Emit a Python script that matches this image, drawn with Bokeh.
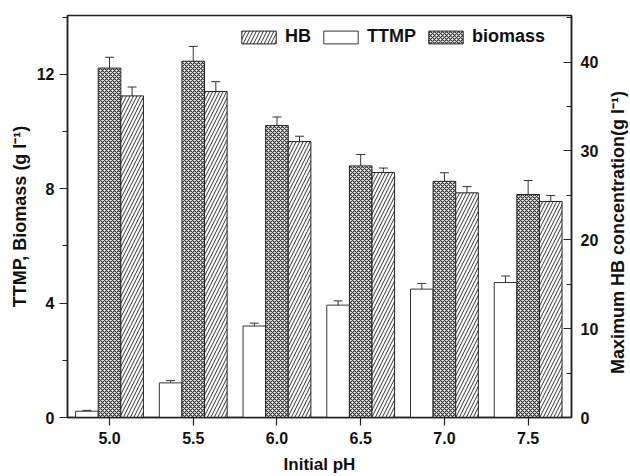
import math
from bokeh.plotting import figure
from bokeh.models import (ColumnDataSource, Range1d, LinearAxis, FixedTicker, NumeralTickFormatter,
                          Whisker, TeeHead, Legend, LegendItem, Label)
from bokeh.embed import file_html
from bokeh.resources import INLINE

# ---- data ----
ph = [5.0, 5.5, 6.0, 6.5, 7.0, 7.5]
ttmp = [0.22, 1.21, 3.20, 3.93, 4.49, 4.72]
ttmp_err = [0.03, 0.08, 0.10, 0.15, 0.20, 0.23]
biomass = [12.22, 12.46, 10.21, 8.80, 8.26, 7.80]
biomass_err = [0.38, 0.52, 0.30, 0.40, 0.30, 0.49]
hb = [36.2, 36.7, 31.06, 27.58, 25.29, 24.32]
hb_err = [1.0, 1.1, 0.6, 0.5, 0.7, 0.67]
left_ticks = [0, 4, 8, 12]
left_minor = [2, 6, 10, 14]
right_ticks = [0, 10, 20, 30, 40]
right_minor = [5, 15, 25, 35, 45]

FONT = "Liberation Sans"
BW = 0.135  # bar width in data units

src = ColumnDataSource(dict(
    x=ph,
    x_t=[v - BW for v in ph],
    x_h=[v + BW for v in ph],
    ttmp=ttmp, t_lo=[a - b for a, b in zip(ttmp, ttmp_err)], t_hi=[a + b for a, b in zip(ttmp, ttmp_err)],
    bio=biomass, b_lo=[a - b for a, b in zip(biomass, biomass_err)], b_hi=[a + b for a, b in zip(biomass, biomass_err)],
    hb=hb, h_lo=[a - b for a, b in zip(hb, hb_err)], h_hi=[a + b for a, b in zip(hb, hb_err)],
))

p = figure(width=630, height=476, output_backend="svg", toolbar_location=None,
           x_range=Range1d(4.749, 7.759), y_range=Range1d(0, 14.06),
           min_border_left=67, min_border_right=59, min_border_top=15, min_border_bottom=58)
p.extra_y_ranges = {"hb": Range1d(0, 45.25)}
p.xgrid.grid_line_color = None
p.ygrid.grid_line_color = None
p.outline_line_color = "#222222"
p.outline_line_width = 1.5
p.background_fill_color = "white"
p.border_fill_color = "white"

r_t = p.vbar(x="x_t", top="ttmp", width=BW, source=src, fill_color="white",
             line_color="#333333", line_width=1)
r_b = p.vbar(x="x", top="bio", width=BW, source=src, fill_color="white",
             hatch_pattern="x", hatch_color="#333333", hatch_scale=4, hatch_weight=1.2,
             line_color="#222222", line_width=1)
r_h = p.vbar(x="x_h", top="hb", width=BW, source=src, fill_color="white",
             hatch_pattern="/", hatch_color="#333333", hatch_scale=7, hatch_weight=1,
             line_color="#222222", line_width=1, y_range_name="hb")

for base, lo, hi, rng in [("x_t", "t_lo", "t_hi", "default"), ("x", "b_lo", "b_hi", "default"),
                          ("x_h", "h_lo", "h_hi", "hb")]:
    w = Whisker(source=src, base=base, lower=lo, upper=hi, line_color="#333333", line_width=1,
                upper_head=TeeHead(size=9, line_color="#333333", line_width=1),
                lower_head=TeeHead(size=9, line_color="#333333", line_width=1))
    if rng != "default":
        w.y_range_name = rng
    p.add_layout(w)

def style_axis(ax, label, size="18px"):
    ax.axis_label = label
    ax.axis_label_text_font = FONT
    ax.axis_label_text_font_style = "bold"
    ax.axis_label_text_font_size = size
    ax.axis_label_text_color = "#111111"
    ax.major_label_text_font = FONT
    ax.major_label_text_font_style = "bold"
    ax.major_label_text_font_size = "16px"
    ax.major_label_text_color = "#111111"
    ax.axis_line_color = "#222222"
    ax.axis_line_width = 1.5
    ax.major_tick_line_color = "#222222"
    ax.minor_tick_line_color = "#222222"
    ax.major_tick_line_width = 1.2
    ax.minor_tick_line_width = 1.2

xa = p.xaxis[0]
style_axis(xa, "Initial pH", "17px")
xa.ticker = FixedTicker(ticks=ph, minor_ticks=[])
xa.formatter = NumeralTickFormatter(format="0.0")
xa.major_tick_out = 8
xa.major_tick_in = 0
xa.major_label_standoff = 6
xa.axis_label_standoff = 8

ya = p.yaxis[0]
style_axis(ya, "TTMP, Biomass (g l\u207b\u00b9)")
ya.ticker = FixedTicker(ticks=left_ticks, minor_ticks=left_minor)
ya.major_tick_out = 8
ya.major_tick_in = 0
ya.minor_tick_out = 5
ya.minor_tick_in = 0
ya.major_label_standoff = 5
ya.axis_label_standoff = 4

ra = LinearAxis(y_range_name="hb")
style_axis(ra, None)
ra.ticker = FixedTicker(ticks=right_ticks, minor_ticks=right_minor)
ra.major_tick_out = 0
ra.major_tick_in = 8
ra.minor_tick_out = 0
ra.minor_tick_in = 5
ra.major_label_standoff = 9
p.add_layout(ra, "right")

# right axis title, reading bottom-to-top as in the reference
right_title = Label(x=16, y=185, x_units="screen", y_units="screen",
                    text="Maximum HB concentration(g l\u207b\u00b9)", angle=math.pi / 2,
                    text_align="center", text_baseline="middle",
                    text_font=FONT, text_font_style="bold", text_font_size="18px",
                    text_color="#111111", level="overlay")
p.add_layout(right_title, "right")

legend = Legend(items=[LegendItem(label="HB", renderers=[r_h]),
                       LegendItem(label="TTMP", renderers=[r_t]),
                       LegendItem(label="biomass", renderers=[r_b])],
                orientation="horizontal", location=(170, 370),
                padding=0, margin=0, spacing=8, label_standoff=5,
                glyph_width=43, glyph_height=16, label_height=16,
                label_text_font=FONT, label_text_font_style="bold",
                label_text_font_size="18px", label_text_color="#111111",
                border_line_color=None, background_fill_alpha=0)
p.add_layout(legend)

open("out.html", "w").write(file_html(p, INLINE))
